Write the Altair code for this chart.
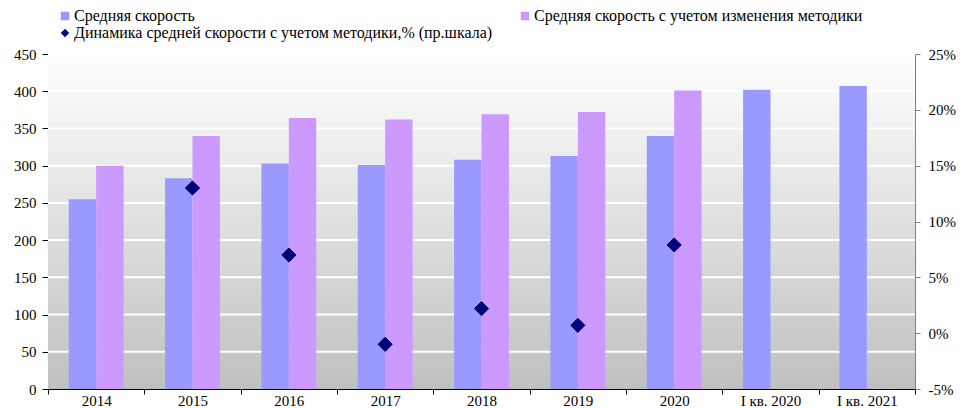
import altair as alt
import pandas as pd

categories = ["2014", "2015", "2016", "2017", "2018", "2019", "2020", "I кв. 2020", "I кв. 2021"]
avg_speed = [255, 283, 303, 301, 308, 313, 340, 402, 407]
avg_speed_adj = [300, 340, 364, 362, 369, 372, 401, None, None]
growth_cats = ["2015", "2016", "2017", "2018", "2019", "2020"]
growth_pct = [13.0, 7.0, -1.0, 2.2, 0.7, 7.9]
left_ticks = [0, 50, 100, 150, 200, 250, 300, 350, 400, 450]
right_ticks = [-5, 0, 5, 10, 15, 20, 25]

S1 = "Средняя скорость"
S2 = "Средняя скорость с учетом изменения методики"
S3 = "Динамика средней скорости с учетом методики,% (пр.шкала)"
series = [S1, S2, S3]
colors = ["#9999FF", "#CC99FF", "#000080"]

FONT = "'Liberation Serif', 'Times New Roman', serif"

rows = []
for c, a, b in zip(categories, avg_speed, avg_speed_adj):
    rows.append({"cat": c, "series": S1, "v": a})
    if b is not None:
        rows.append({"cat": c, "series": S2, "v": b})
bars_df = pd.DataFrame(rows)
pts_df = pd.DataFrame({"cat": growth_cats, "series": S3, "p": growth_pct})
grid_df = pd.DataFrame({"g": left_ticks[1:]})

xscale = alt.Scale(domain=categories, paddingInner=0, paddingOuter=0)
xaxis = alt.Axis(title=None, labelAngle=0, tickBand="extent", domainColor="black",
                 tickColor="black", tickSize=5, labelPadding=-1, labelFont=FONT,
                 labelFontSize=15, labelColor="black")
yscale_l = alt.Scale(domain=[0, 450], nice=False, zero=True)
yaxis_l = alt.Axis(title=None, values=left_ticks, grid=False, domainColor="black",
                   tickColor="black", tickSize=6, labelPadding=6, labelFont=FONT,
                   labelFontSize=15, labelColor="black")
color_scale = alt.Scale(domain=series, range=colors)
legend = alt.Legend(title=None, orient="none", legendX=9, legendY=-46, columns=2,
                    direction="horizontal",
                    labelFont=FONT, labelFontSize=16, labelColor="black",
                    symbolSize=72, symbolStrokeWidth=0, rowPadding=1,
                    columnPadding=24, labelOffset=1, labelLimit=600)

bg = alt.Chart(pd.DataFrame({"a": [0]})).mark_rect(
    fill=alt.Gradient(gradient="linear",
                      stops=[alt.GradientStop(color="#ffffff", offset=0),
                             alt.GradientStop(color="#c0c0c0", offset=1)],
                      x1=0, x2=0, y1=0, y2=1)
).encode(x=alt.value(0), x2=alt.value("width"), y=alt.value(0), y2=alt.value("height"))

grid = alt.Chart(grid_df).mark_rule(color="white", strokeWidth=2).encode(
    y=alt.Y("g:Q", scale=yscale_l, axis=yaxis_l)
)

bars = alt.Chart(bars_df).mark_bar().encode(
    x=alt.X("cat:N", scale=xscale, axis=xaxis, sort=categories),
    xOffset=alt.XOffset("series:N", scale=alt.Scale(domain=[S1, S2], paddingOuter=0.757, paddingInner=0)),
    y=alt.Y("v:Q", scale=yscale_l, axis=yaxis_l),
    color=alt.Color("series:N", scale=color_scale, legend=legend),
)

left = alt.layer(bg, grid, bars)

pts = alt.Chart(pts_df).mark_point(filled=True, size=200, opacity=1, stroke="#00004a",
                                   strokeWidth=1).encode(
    x=alt.X("cat:N", scale=xscale, axis=xaxis, sort=categories),
    y=alt.Y("p:Q", scale=alt.Scale(domain=[-5, 25], nice=False, zero=False),
            axis=alt.Axis(orient="right", title=None, values=right_ticks, grid=False,
                          labelExpr="datum.value + '%'", domainColor="#808080",
                          tickColor="#808080", tickSize=5, labelPadding=8,
                          labelFont=FONT, labelFontSize=15, labelColor="black")),
    color=alt.Color("series:N", scale=color_scale, legend=legend),
    shape=alt.Shape("series:N", scale=alt.Scale(domain=series, range=["square", "square", "diamond"]),
                    legend=legend),
)

chart = alt.layer(left, pts).resolve_scale(y="independent").properties(
    width=867, height=335,
    padding={"left": 40, "top": 46, "right": 49, "bottom": 19},
    autosize=alt.AutoSizeParams(type="none"),
).configure(font=FONT).configure_view(stroke=None).configure_legend(
    labelFont=FONT, labelFontSize=16, labelColor="black"
)

chart.save("out.html", embed_options={"renderer": "svg", "actions": False})
